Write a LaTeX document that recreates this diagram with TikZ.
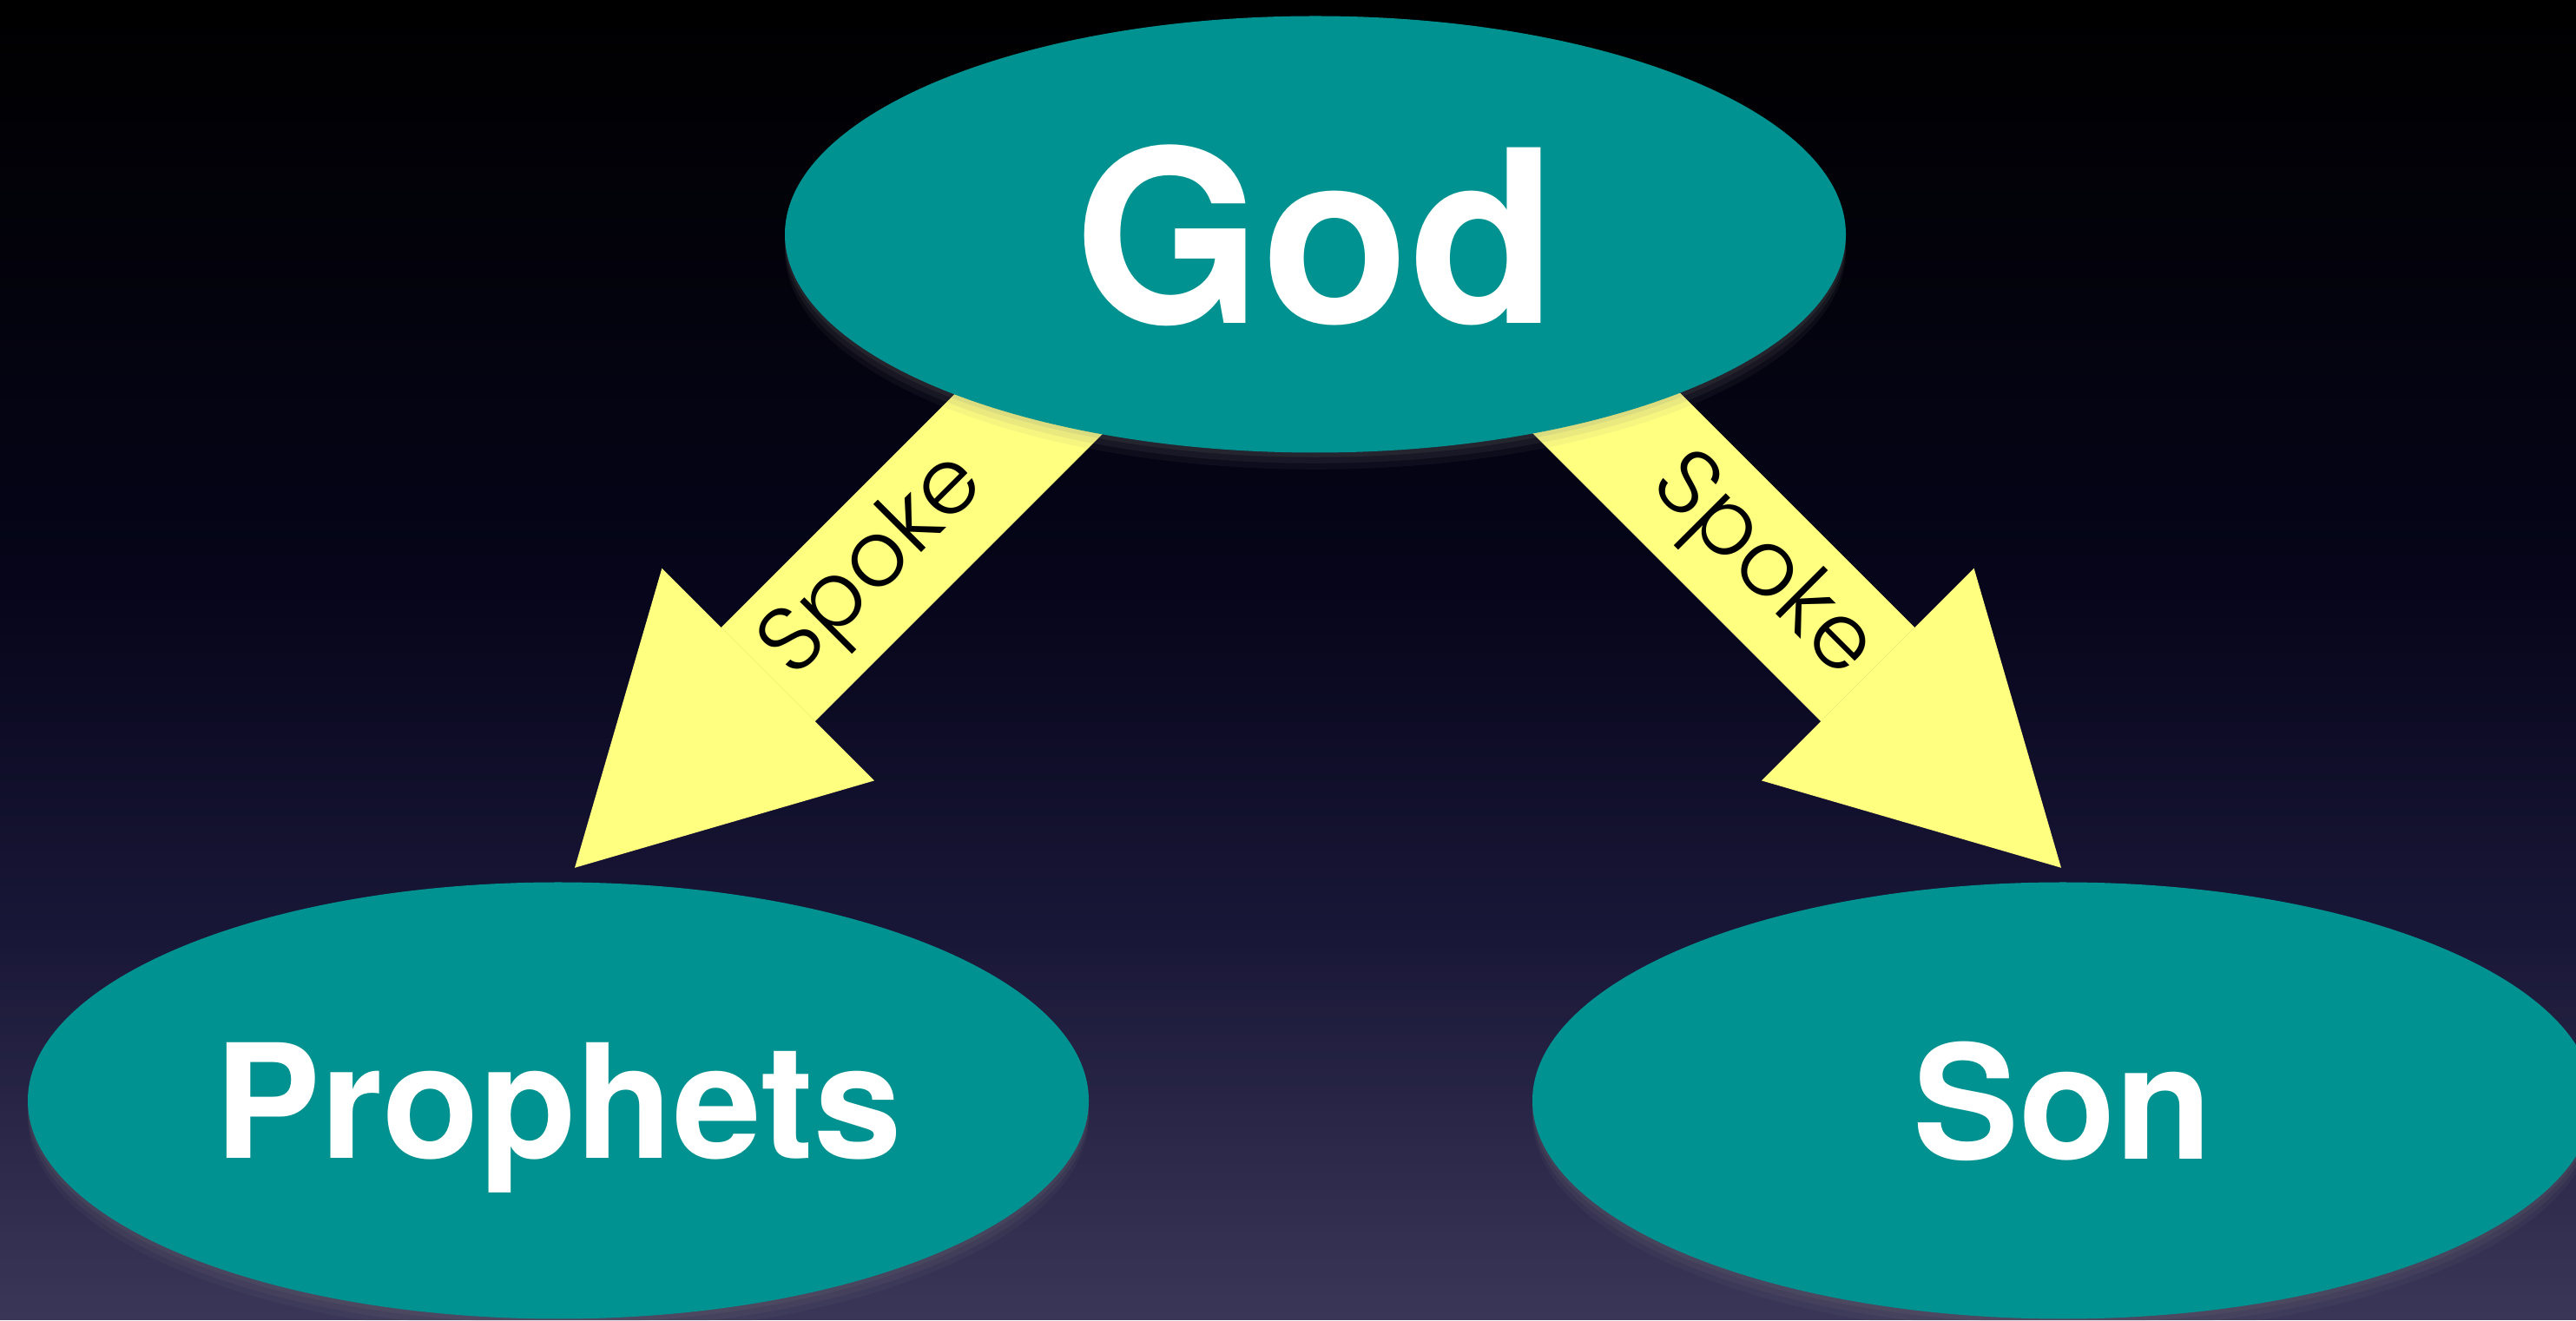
\documentclass[tikz,border=0pt]{standalone}
\usepackage{fontspec}
\setmainfont{TeX Gyre Heros}
\newfontfamily\spokefont{Poppins Light}
\usetikzlibrary{shapes.geometric, arrows.meta, calc, shadows}

\definecolor{orbteal}{RGB}{0,146,144}
\definecolor{spokeyellow}{RGB}{255,255,128}
\definecolor{skytop}{RGB}{0,0,0}
\definecolor{skymid}{RGB}{6,5,26}
\definecolor{skylow}{RGB}{24,22,54}
\definecolor{skybot}{RGB}{58,54,88}
\pgfdeclarelayer{backdrop}
\pgfdeclarelayer{background}
\pgfsetlayers{backdrop,background,main}

\begin{document}
\begin{tikzpicture}[
    orb/.style={ellipse, fill=orbteal, minimum width=12.22cm, minimum height=5.03cm, inner sep=0pt, text=white, text depth=0pt,
                drop shadow={shadow xshift=0pt, shadow yshift=-1.5pt, opacity=0.12},
                drop shadow={shadow xshift=0pt, shadow yshift=-3.5pt, opacity=0.1},
                drop shadow={shadow xshift=0pt, shadow yshift=-5.5pt, opacity=0.08}},
    spoke/.style={draw=spokeyellow, line width=1.53cm, -{Triangle[length=3.15cm, width=3.46cm, line width=0pt]}},
    spokelabel/.style={font=\spokefont\fontsize{30}{36}\selectfont, text=black, sloped, inner sep=0pt}
]
\useasboundingbox (0,0) rectangle (29.67,15.21);

% Backdrop, banded from the bottom up
\begin{pgfonlayer}{backdrop}
\foreach \i in {0,...,45} {
  \pgfmathsetmacro{\p}{100-\i*100/45}
  \fill[skybot!\p!skylow] (0,\i*0.1) rectangle (29.67,\i*0.1+0.11);
}
\foreach \i in {0,...,38} {
  \pgfmathsetmacro{\p}{100-\i*100/38}
  \fill[skylow!\p!skymid] (0,4.6+\i*0.1) rectangle (29.67,4.6+\i*0.1+0.11);
}
\foreach \i in {0,...,68} {
  \pgfmathsetmacro{\p}{100-\i*100/68}
  \fill[skymid!\p!skytop] (0,8.4+\i*0.1) rectangle (29.67,8.4+\i*0.1+0.11);
}
\end{pgfonlayer}

% Main nodes
\node[orb, font=\bfseries\fontsize{79}{90}\selectfont] (god) at (15.15,12.51) {God};
\node[orb, font=\bfseries\fontsize{52}{60}\selectfont] (prophets) at (6.43,2.53) {Prophets};
\node[orb, font=\bfseries\fontsize{52}{60}\selectfont] (son) at (23.76,2.53) {Son};

% Spokes
\coordinate (ltip) at ($(prophets.north)+(0.19,0.16)$);
\coordinate (rtip) at ($(son.north)+(-0.02,0.16)$);
\coordinate (ltail) at ($(ltip)+(45:8.81)$);
\coordinate (rtail) at ($(rtip)+(135:8.81)$);

\begin{pgfonlayer}{background}
\draw[spoke] (ltail) -- node[spokelabel, pos=0.445] (lspoke) {Spoke} (ltip);
\draw[spoke] (rtail) -- node[spokelabel, pos=0.445] (rspoke) {Spoke} (rtip);
\end{pgfonlayer}

\end{tikzpicture}
\end{document}
